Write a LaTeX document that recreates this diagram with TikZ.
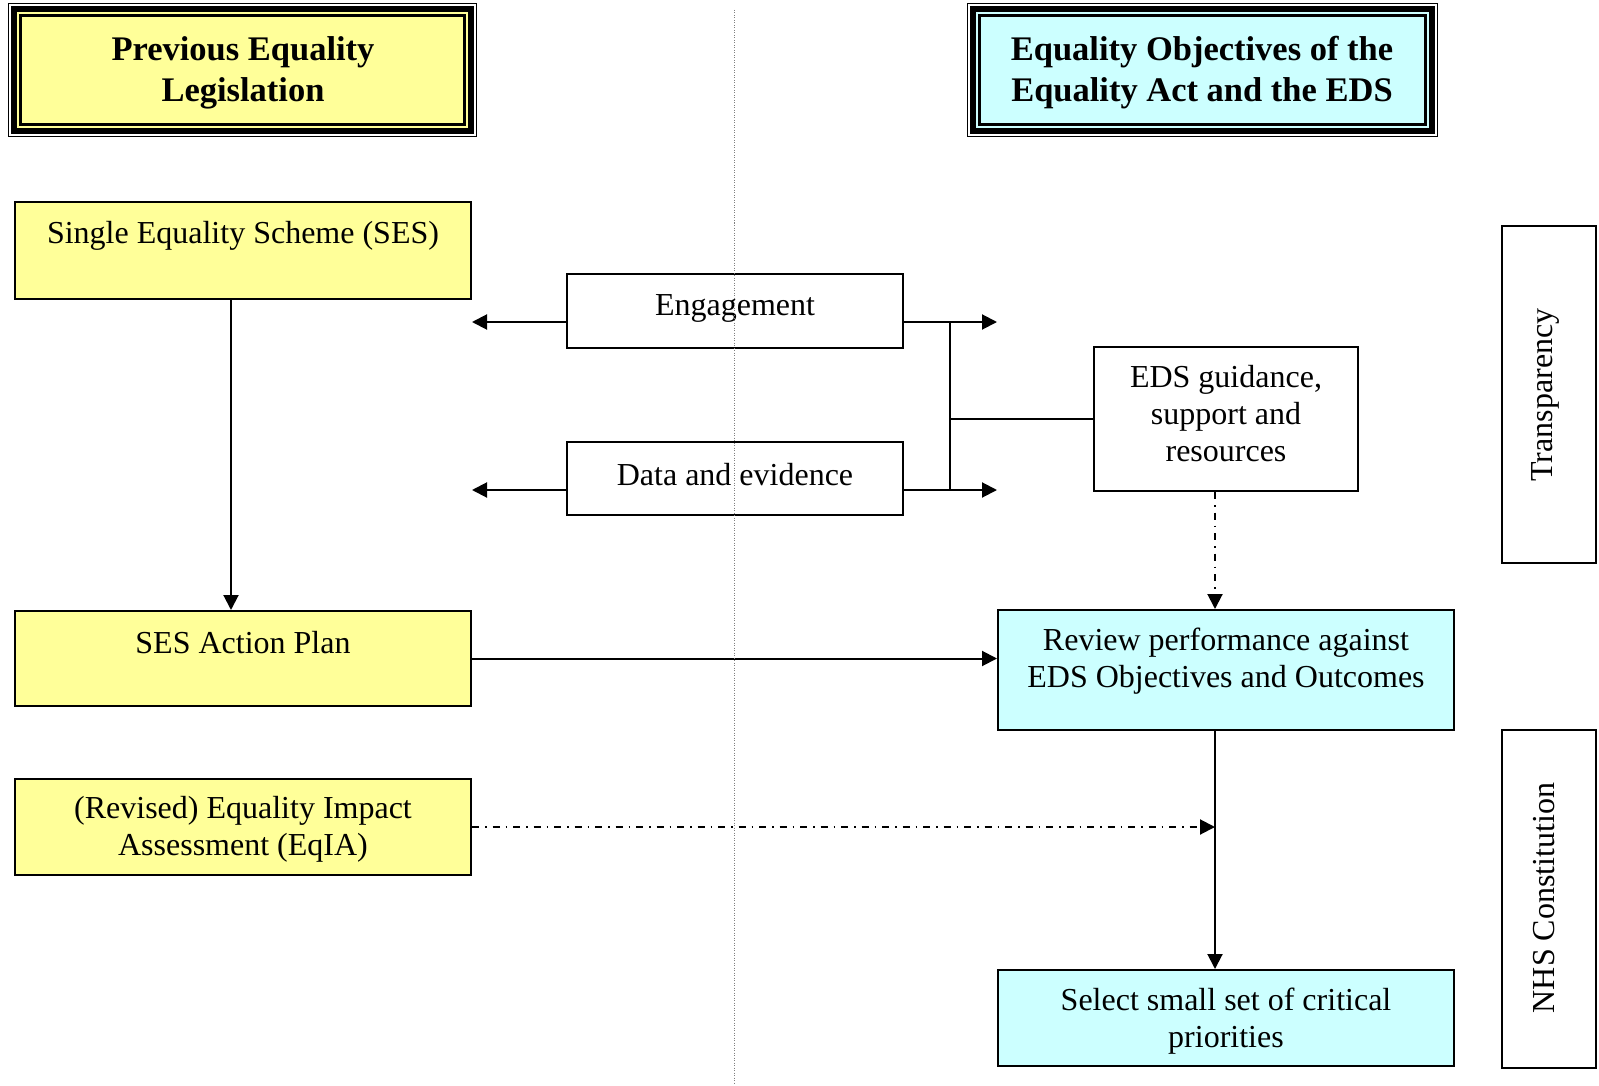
\documentclass[tikz,border=0pt]{standalone}
\usepackage{fontspec}
\setmainfont{Liberation Serif}
\usetikzlibrary{calc,arrows.meta}
\definecolor{ylw}{HTML}{FFFF99}
\definecolor{cyn}{HTML}{CCFFFF}
\begin{document}
\begin{tikzpicture}[x=1pt,y=-1pt,
 box/.style={draw,line width=2pt,rectangle,inner sep=0pt},
 txt/.style={align=center,font=\fontsize{32}{37}\selectfont,inner sep=0pt},
 htxt/.style={align=center,font=\bfseries\fontsize{34.5}{41}\selectfont,inner sep=0pt},
 tip/.style={-{Triangle[length=15pt,width=15pt]}},
 arr/.style={line width=2pt,tip},
 ln/.style={line width=2pt},
 dashdot/.style={line width=2pt,dash pattern=on 7pt off 6pt on 1.5pt off 6pt},
 hdr/.style={rectangle,inner sep=0pt,fill=black,minimum width=#1,minimum height=134},
]
\useasboundingbox[fill=white] (0,0) rectangle (1599,1086);

% headers
\node[hdr=469] (hy) at (242.5,70) {};
\node[hdr=471] (hc) at (1202.5,70) {};
\foreach \n/\c in {hy/ylw,hc/cyn}{
  \fill[white] ($(\n.north west)+(1.5,1.5)$) rectangle ($(\n.south east)+(-1.5,-1.5)$);
  \fill[black] ($(\n.north west)+(3.5,3.5)$) rectangle ($(\n.south east)+(-3.5,-3.5)$);
  \fill[\c] ($(\n.north west)+(9,9)$) rectangle ($(\n.south east)+(-9,-9)$);
  \fill[black] ($(\n.north west)+(11.5,11.5)$) rectangle ($(\n.south east)+(-11.5,-11.5)$);
  \fill[\c] ($(\n.north west)+(14.5,14.5)$) rectangle ($(\n.south east)+(-14.5,-14.5)$);
}
\node[htxt] (hyt) at (243,73) {Previous Equality\\Legislation};
\node[htxt] (hct) at (1202,73) {Equality Objectives of the\\Equality Act and the EDS};

% boxes
\node[box,fill=ylw,minimum width=456,minimum height=97] (ses) at (243,250.5) {};
\node[box,fill=ylw,minimum width=456,minimum height=95] (sap) at (243,658.5) {};
\node[box,fill=ylw,minimum width=456,minimum height=96] (eqia) at (243,827) {};
\node[box,fill=white,minimum width=336,minimum height=74] (eng) at (735,311) {};
\node[box,fill=white,minimum width=336,minimum height=73] (dat) at (735,478.5) {};
\node[box,fill=white,minimum width=264,minimum height=144] (eds) at (1226,419) {};
\node[box,fill=cyn,minimum width=456,minimum height=120] (rev) at (1226,670) {};
\node[box,fill=cyn,minimum width=456,minimum height=96] (sel) at (1226,1018) {};
\node[box,fill=white,minimum width=94,minimum height=337] (tra) at (1549,394.5) {};
\node[box,fill=white,minimum width=94,minimum height=338] (nhs) at (1549,899) {};

% texts
\node[txt] (sest) at (243,236) {Single Equality Scheme (SES)};
\node[txt] (sapt) at (243,643) {SES Action Plan};
\node[txt] (eqiat) at (243,829.5) {(Revised) Equality Impact\\Assessment (EqIA)};
\node[txt] (engt) at (735,308) {Engagement};
\node[txt] (datt) at (735,475) {Data and evidence};
\node[txt] (edst) at (1226,414) {EDS guidance,\\support and\\resources};
\node[txt] (revt) at (1226,661.5) {Review performance against\\EDS Objectives and Outcomes};
\node[txt] (selt) at (1226,1021) {Select small set of critical\\priorities};
\node[txt,rotate=90] (trat) at (1545,395) {Transparency};
\node[txt,rotate=90] (nhst) at (1544,898) {NHS Constitution};

% helper coordinates
\coordinate (xs) at (231,0);
\coordinate (xb) at (950,0);
\coordinate (xr) at (1215,0);
\coordinate (ye) at (0,322);
\coordinate (yd) at (0,490);

% connectors
\draw[arr] (ses.south -| xs) -- (sap.north -| xs);
\draw[arr] (eng.west |- ye) -- (ses.east |- ye);
\draw[arr] (dat.west |- yd) -- (ses.east |- yd);
\draw[arr] (eng.east |- ye) -- (rev.west |- ye);
\draw[arr] (dat.east |- yd) -- (rev.west |- yd);
\draw[ln] (xb |- ye) -- (xb |- yd);
\draw[ln] (xb |- eds.west) -- (eds.west);
\draw[dashdot,tip] (eds.south -| xr) -- (rev.north -| xr);
\draw[arr] (sap.east) -- (sap.east -| rev.west);
\draw[dashdot,tip] (eqia.east) -- (eqia.east -| xr);
\draw[arr] (rev.south -| xr) -- (sel.north -| xr);

% dotted divider
\coordinate (dtop) at (734,10);
\coordinate (dbot) at (734,1083);
\draw[gray,line width=0.8pt,dash pattern=on 1pt off 1.5pt] (dtop) -- (dbot);
\end{tikzpicture}
\end{document}
